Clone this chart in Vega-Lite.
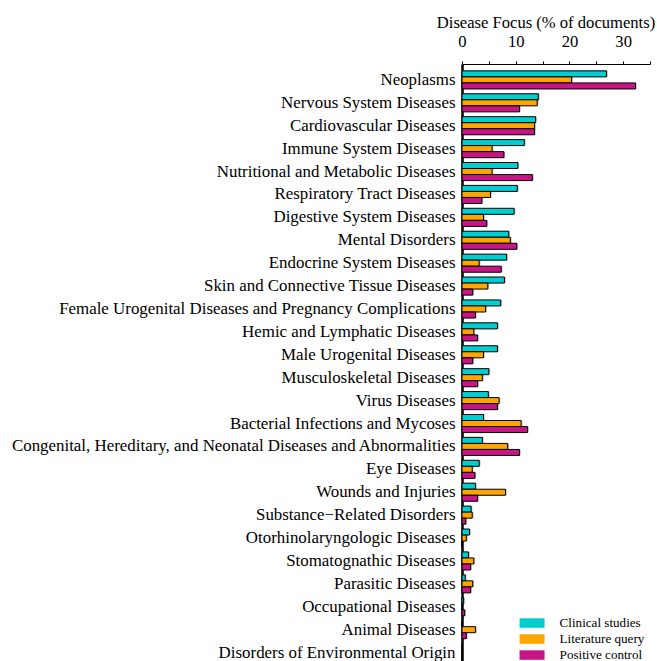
{
  "$schema": "https://vega.github.io/schema/vega-lite/v6.json",
  "autosize": {"type": "none"},
  "width": 188,
  "height": 597,
  "padding": {"left": 462, "top": 64, "right": 7, "bottom": 0},
  "background": "white",
  "config": {
    "font": "Liberation Serif",
    "view": {"stroke": null}
  },
  "data": {
    "values": [
      {"disease": "Neoplasms", "series": "Clinical studies", "value": 26.9},
      {"disease": "Neoplasms", "series": "Literature query", "value": 20.4},
      {"disease": "Neoplasms", "series": "Positive control", "value": 32.3},
      {"disease": "Nervous System Diseases", "series": "Clinical studies", "value": 14.2},
      {"disease": "Nervous System Diseases", "series": "Literature query", "value": 14.0},
      {"disease": "Nervous System Diseases", "series": "Positive control", "value": 10.7},
      {"disease": "Cardiovascular Diseases", "series": "Clinical studies", "value": 13.7},
      {"disease": "Cardiovascular Diseases", "series": "Literature query", "value": 13.5},
      {"disease": "Cardiovascular Diseases", "series": "Positive control", "value": 13.5},
      {"disease": "Immune System Diseases", "series": "Clinical studies", "value": 11.6},
      {"disease": "Immune System Diseases", "series": "Literature query", "value": 5.6},
      {"disease": "Immune System Diseases", "series": "Positive control", "value": 7.8},
      {"disease": "Nutritional and Metabolic Diseases", "series": "Clinical studies", "value": 10.4},
      {"disease": "Nutritional and Metabolic Diseases", "series": "Literature query", "value": 5.6},
      {"disease": "Nutritional and Metabolic Diseases", "series": "Positive control", "value": 13.1},
      {"disease": "Respiratory Tract Diseases", "series": "Clinical studies", "value": 10.3},
      {"disease": "Respiratory Tract Diseases", "series": "Literature query", "value": 5.3},
      {"disease": "Respiratory Tract Diseases", "series": "Positive control", "value": 3.7},
      {"disease": "Digestive System Diseases", "series": "Clinical studies", "value": 9.7},
      {"disease": "Digestive System Diseases", "series": "Literature query", "value": 4.0},
      {"disease": "Digestive System Diseases", "series": "Positive control", "value": 4.6},
      {"disease": "Mental Disorders", "series": "Clinical studies", "value": 8.7},
      {"disease": "Mental Disorders", "series": "Literature query", "value": 9.0},
      {"disease": "Mental Disorders", "series": "Positive control", "value": 10.2},
      {"disease": "Endocrine System Diseases", "series": "Clinical studies", "value": 8.3},
      {"disease": "Endocrine System Diseases", "series": "Literature query", "value": 3.2},
      {"disease": "Endocrine System Diseases", "series": "Positive control", "value": 7.3},
      {"disease": "Skin and Connective Tissue Diseases", "series": "Clinical studies", "value": 7.9},
      {"disease": "Skin and Connective Tissue Diseases", "series": "Literature query", "value": 4.8},
      {"disease": "Skin and Connective Tissue Diseases", "series": "Positive control", "value": 2.0},
      {"disease": "Female Urogenital Diseases and Pregnancy Complications", "series": "Clinical studies", "value": 7.2},
      {"disease": "Female Urogenital Diseases and Pregnancy Complications", "series": "Literature query", "value": 4.4},
      {"disease": "Female Urogenital Diseases and Pregnancy Complications", "series": "Positive control", "value": 2.5},
      {"disease": "Hemic and Lymphatic Diseases", "series": "Clinical studies", "value": 6.6},
      {"disease": "Hemic and Lymphatic Diseases", "series": "Literature query", "value": 2.2},
      {"disease": "Hemic and Lymphatic Diseases", "series": "Positive control", "value": 2.9},
      {"disease": "Male Urogenital Diseases", "series": "Clinical studies", "value": 6.6},
      {"disease": "Male Urogenital Diseases", "series": "Literature query", "value": 4.0},
      {"disease": "Male Urogenital Diseases", "series": "Positive control", "value": 2.0},
      {"disease": "Musculoskeletal Diseases", "series": "Clinical studies", "value": 5.0},
      {"disease": "Musculoskeletal Diseases", "series": "Literature query", "value": 3.8},
      {"disease": "Musculoskeletal Diseases", "series": "Positive control", "value": 2.9},
      {"disease": "Virus Diseases", "series": "Clinical studies", "value": 4.9},
      {"disease": "Virus Diseases", "series": "Literature query", "value": 6.9},
      {"disease": "Virus Diseases", "series": "Positive control", "value": 6.6},
      {"disease": "Bacterial Infections and Mycoses", "series": "Clinical studies", "value": 4.0},
      {"disease": "Bacterial Infections and Mycoses", "series": "Literature query", "value": 11.0},
      {"disease": "Bacterial Infections and Mycoses", "series": "Positive control", "value": 12.2},
      {"disease": "Congenital, Hereditary, and Neonatal Diseases and Abnormalities", "series": "Clinical studies", "value": 3.8},
      {"disease": "Congenital, Hereditary, and Neonatal Diseases and Abnormalities", "series": "Literature query", "value": 8.5},
      {"disease": "Congenital, Hereditary, and Neonatal Diseases and Abnormalities", "series": "Positive control", "value": 10.7},
      {"disease": "Eye Diseases", "series": "Clinical studies", "value": 3.2},
      {"disease": "Eye Diseases", "series": "Literature query", "value": 1.9},
      {"disease": "Eye Diseases", "series": "Positive control", "value": 2.4},
      {"disease": "Wounds and Injuries", "series": "Clinical studies", "value": 2.5},
      {"disease": "Wounds and Injuries", "series": "Literature query", "value": 8.1},
      {"disease": "Wounds and Injuries", "series": "Positive control", "value": 2.9},
      {"disease": "Substance−Related Disorders", "series": "Clinical studies", "value": 1.7},
      {"disease": "Substance−Related Disorders", "series": "Literature query", "value": 1.9},
      {"disease": "Substance−Related Disorders", "series": "Positive control", "value": 0.7},
      {"disease": "Otorhinolaryngologic Diseases", "series": "Clinical studies", "value": 1.4},
      {"disease": "Otorhinolaryngologic Diseases", "series": "Literature query", "value": 0.8},
      {"disease": "Otorhinolaryngologic Diseases", "series": "Positive control", "value": 0},
      {"disease": "Stomatognathic Diseases", "series": "Clinical studies", "value": 1.2},
      {"disease": "Stomatognathic Diseases", "series": "Literature query", "value": 2.2},
      {"disease": "Stomatognathic Diseases", "series": "Positive control", "value": 1.6},
      {"disease": "Parasitic Diseases", "series": "Clinical studies", "value": 0.6},
      {"disease": "Parasitic Diseases", "series": "Literature query", "value": 2.0},
      {"disease": "Parasitic Diseases", "series": "Positive control", "value": 1.6},
      {"disease": "Occupational Diseases", "series": "Clinical studies", "value": 0.3},
      {"disease": "Occupational Diseases", "series": "Literature query", "value": 0},
      {"disease": "Occupational Diseases", "series": "Positive control", "value": 0.5},
      {"disease": "Animal Diseases", "series": "Clinical studies", "value": 0},
      {"disease": "Animal Diseases", "series": "Literature query", "value": 2.5},
      {"disease": "Animal Diseases", "series": "Positive control", "value": 0.8},
      {"disease": "Disorders of Environmental Origin", "series": "Clinical studies", "value": 0},
      {"disease": "Disorders of Environmental Origin", "series": "Literature query", "value": 0},
      {"disease": "Disorders of Environmental Origin", "series": "Positive control", "value": 0}
    ]
  },
  "encoding": {
    "y": {
      "field": "disease",
      "type": "nominal",
      "sort": null,
      "scale": {"range": [0, 604.5], "paddingInner": 0.21, "paddingOuter": 0.3},
      "axis": {
        "title": null,
        "ticks": false,
        "labelFontSize": 16.9,
        "labelColor": "black",
        "labelPadding": 7,
        "labelLimit": 0,
        "domainColor": "black",
        "domainWidth": 2.5
      }
    },
    "yOffset": {
      "field": "series",
      "type": "nominal",
      "sort": ["Clinical studies", "Literature query", "Positive control"],
      "scale": {"paddingInner": 0, "paddingOuter": 0}
    },
    "x": {
      "field": "value",
      "type": "quantitative",
      "scale": {"domain": [0, 35], "nice": false},
      "axis": {
        "orient": "top",
        "title": "Disease Focus (% of documents)",
        "titleFontSize": 16.6,
        "titleFontWeight": "normal",
        "titleColor": "black",
        "titleAnchor": null,
        "titleAlign": "center",
        "titleBaseline": "alphabetic",
        "titleX": 83.5,
        "titleY": -37,
        "values": [0, 5, 10, 15, 20, 25, 30, 35],
        "labelExpr": "datum.value % 10 === 0 ? datum.label : ''",
        "labelFlush": false,
        "labelFontSize": 16.6,
        "labelColor": "black",
        "labelBaseline": "alphabetic",
        "labelPadding": 15,
        "tickColor": "black",
        "tickSize": 3,
        "domainColor": "black",
        "grid": false
      }
    }
  },
  "layer": [
    {
      "mark": {"type": "bar", "color": "#888888", "opacity": 0.55, "xOffset": 1.3, "yOffset": 1.3},
      "encoding": {}
    },
    {
      "mark": {"type": "bar", "stroke": "black", "strokeWidth": 1},
      "encoding": {
        "color": {
          "field": "series",
          "type": "nominal",
          "scale": {
            "domain": ["Clinical studies", "Literature query", "Positive control"],
            "range": ["#00CED1", "#FFA500", "#C71585"]
          },
          "legend": {
            "title": null,
            "orient": "none",
            "legendX": 63.5,
            "legendY": 552.5,
            "symbolType": "M-2.5,-0.95L2.5,-0.95L2.5,0.95L-2.5,0.95Z",
            "symbolSize": 100,
            "symbolStrokeWidth": 0,
            "labelFontSize": 13.1,
            "labelColor": "black",
            "rowPadding": 2,
            "labelOffset": 21
          }
        }
      }
    }
  ]
}
